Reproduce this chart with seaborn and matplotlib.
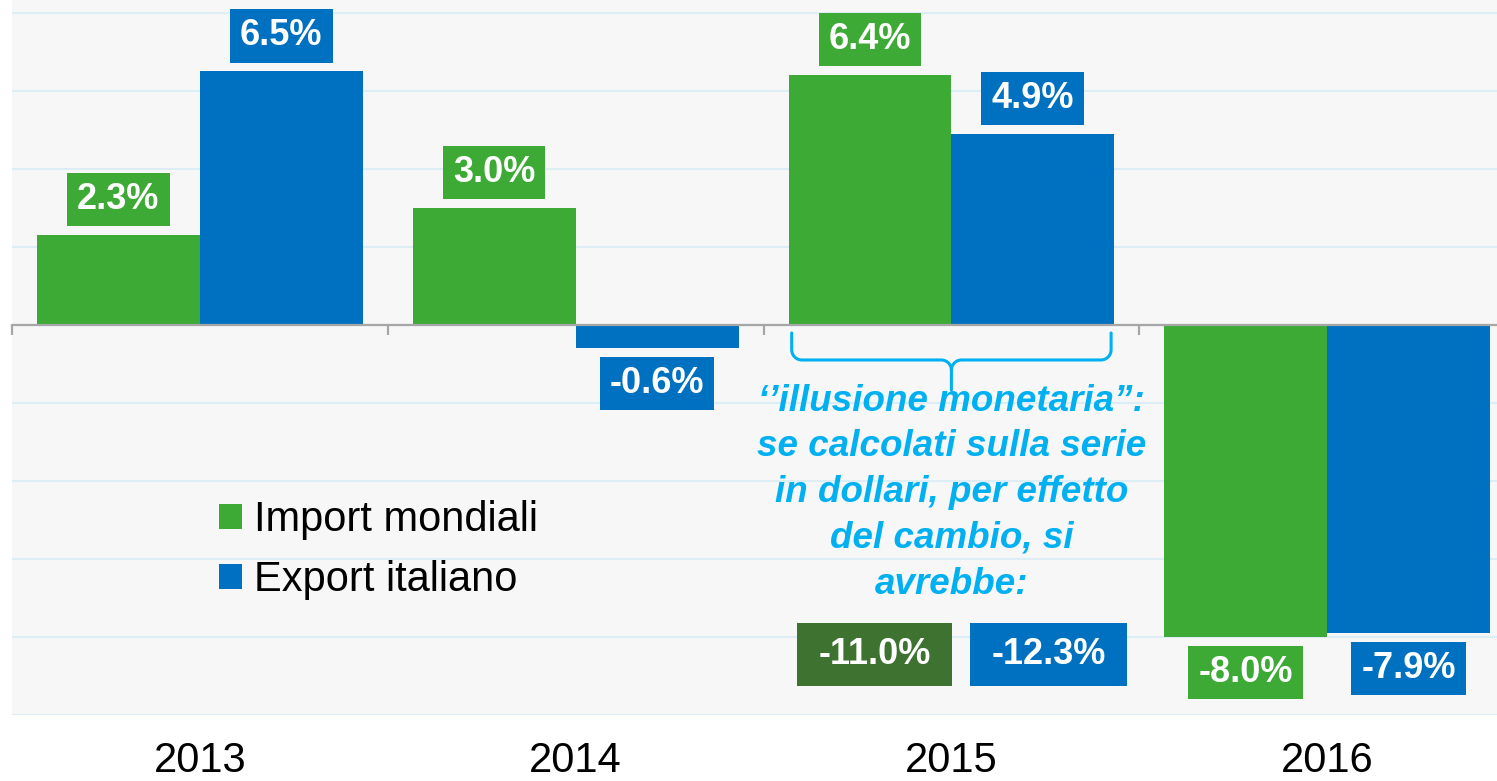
import matplotlib
matplotlib.use('Agg')
import matplotlib.pyplot as plt
import seaborn as sns
import pandas as pd
import numpy as np
from matplotlib.path import Path
from matplotlib.transforms import blended_transform_factory

# ---- data ----
years = ['2013', '2014', '2015', '2016']
import_mondiali = [2.3, 3.0, 6.4, -8.0]
export_italiano = [6.5, -0.6, 4.9, -7.9]
series_names = ['Import mondiali', 'Export italiano']
dollar_2015 = [-11.0, -12.3]   # 2015 growth computed on dollar series
note_text = ("‘’illusione monetaria”:\nse calcolati sulla serie\n"
             "in dollari, per effetto\ndel cambio, si\navrebbe:")

GREEN = '#3caa35'
BLUE = '#0070c0'
DARKGREEN = '#3e7230'
CYAN = '#00b0f0'
GRID = '#dcedf5'
AXIS = '#a6a6a6'

df = pd.DataFrame({
    'year': years * 2,
    'serie': [series_names[0]] * len(years) + [series_names[1]] * len(years),
    'value': import_mondiali + export_italiano,
})

sns.set_theme(style='white')
plt.rcParams['font.family'] = ['Liberation Sans', 'DejaVu Sans']


class PadBox:
    """square box with separate x / y padding (fraction of font size)"""
    def __init__(self, padx, pady):
        self.padx, self.pady = padx, pady

    def __call__(self, x0, y0, width, height, mutation_size):
        px = self.padx * mutation_size
        py = self.pady * mutation_size
        x0 -= px
        y0 -= py
        x1 = x0 + width + 2 * px
        y1 = y0 + height + 2 * py
        return Path([(x0, y0), (x1, y0), (x1, y1), (x0, y1), (x0, y0)],
                    closed=True)


W, H = 1497, 781
fig = plt.figure(figsize=(W / 100, H / 100), dpi=100)
fig.patch.set_facecolor('white')
ax = fig.add_axes([12 / W, 66 / H, (W - 12) / W, 715 / H])
ax.set_facecolor('#f7f7f7')

sns.barplot(data=df, x='year', y='value', hue='serie', hue_order=series_names,
            palette=[GREEN, BLUE], width=0.867, gap=0, saturation=1,
            linewidth=0, ax=ax, zorder=2)

ax.set_xlabel('')
ax.set_ylabel('')

# grid
ax.set_yticks(np.arange(-10, 9, 2))
ax.yaxis.grid(True, color=GRID, lw=1.5, zorder=0)
ax.set_axisbelow(True)
ax.tick_params(axis='y', left=False, labelleft=False)

# zero axis with category separators
for s in ['top', 'left', 'right']:
    ax.spines[s].set_visible(False)
ax.spines['bottom'].set_position(('data', 0))
ax.spines['bottom'].set_color(AXIS)
ax.spines['bottom'].set_linewidth(1.6)
ax.spines['bottom'].set_zorder(3)
sep = np.arange(-0.5, len(years), 1.0)
ax.set_xticks(sep)
ax.set_xticklabels([''] * len(sep))
ax.tick_params(axis='x', bottom=True, direction='out', length=7.5, width=1.6,
               color=AXIS, labelbottom=False)

ax.set_xlim(-0.5, 3.452)
ax.set_ylim(-10, 8.333)

# year labels at bottom
tr = blended_transform_factory(ax.transData, fig.transFigure)
for i, y in enumerate(years):
    fig.text(i, 0.0, y, transform=tr, ha='center', va='bottom',
             fontsize=30, color='black')

# value labels
box_colors = [GREEN, BLUE]
bar_centers = []
for k, cont in enumerate(ax.containers):
    centers = []
    for bar in cont:
        v = bar.get_height()
        cx = bar.get_x() + bar.get_width() / 2
        centers.append(cx)
        up = v >= 0
        ax.annotate(f'{v:.1f}%', xy=(cx, v), xytext=(0, 18 if up else -18),
                    textcoords='offset pixels', ha='center',
                    va='bottom' if up else 'top', fontsize=26,
                    fontweight='bold', color='white', zorder=5,
                    bbox=dict(boxstyle=PadBox(0.28, 0.25), fc=box_colors[k],
                              ec='none'))
    bar_centers.append(centers)

# curly bracket under 2015
cx15 = 2
bl, br = cx15 - 0.425, cx15 + 0.425
ytop, ymid, ystem = -0.205, -0.897, -1.667
rx, ry = 0.027, 0.26   # ~10 px radius in data units


def arc(xc, yc, a0, a1, n=12):
    t = np.radians(np.linspace(a0, a1, n))
    return list(xc + rx * np.cos(t)), list(yc + ry * np.sin(t))


xs, ys = [bl], [ytop]
for (xc, yc, a0, a1) in [(bl + rx, ymid + ry, 180, 270),
                         (cx15 - rx, ymid - ry, 90, 0)]:
    ax_, ay_ = arc(xc, yc, a0, a1)
    xs += ax_
    ys += ay_
xs += [cx15]
ys += [ystem]
ax.plot(xs, ys, color=CYAN, lw=2.2, solid_capstyle='round', zorder=4)
xs, ys = [br], [ytop]
for (xc, yc, a0, a1) in [(br - rx, ymid + ry, 360, 270),
                         (cx15 + rx, ymid - ry, 90, 180)]:
    ax_, ay_ = arc(xc, yc, a0, a1)
    xs += ax_
    ys += ay_
ax.plot(xs, ys, color=CYAN, lw=2.2, solid_capstyle='round', zorder=4)

ax.text(cx15, -4.3, note_text, ha='center', va='center', fontsize=26.5,
        fontweight='bold', fontstyle='italic', color=CYAN, linespacing=1.40,
        zorder=4)

# dollar-based values
dcolors = [DARKGREEN, BLUE]
dshift = [0.012, 0.042]
for k, v in enumerate(dollar_2015):
    ax.text(bar_centers[k][2] + dshift[k], -8.45, f'{v:.1f}%', ha='center',
            va='center', fontsize=26, fontweight='bold', color='white',
            zorder=5,
            bbox=dict(boxstyle=PadBox(0.6, 0.4), fc=dcolors[k], ec='none'))

# legend
handles, labels = ax.get_legend_handles_labels()
leg = ax.legend(handles, labels, loc='upper left',
                bbox_to_anchor=(219 / W, 1 - 500 / H),
                bbox_transform=fig.transFigure,
                frameon=False, fontsize=30, handlelength=0.55,
                handleheight=0.55, handletextpad=0.3, labelspacing=0.49,
                borderpad=0, borderaxespad=0)
for t in leg.get_texts():
    t.set_color('black')

fig.savefig('out.png', dpi=100, facecolor='white')
